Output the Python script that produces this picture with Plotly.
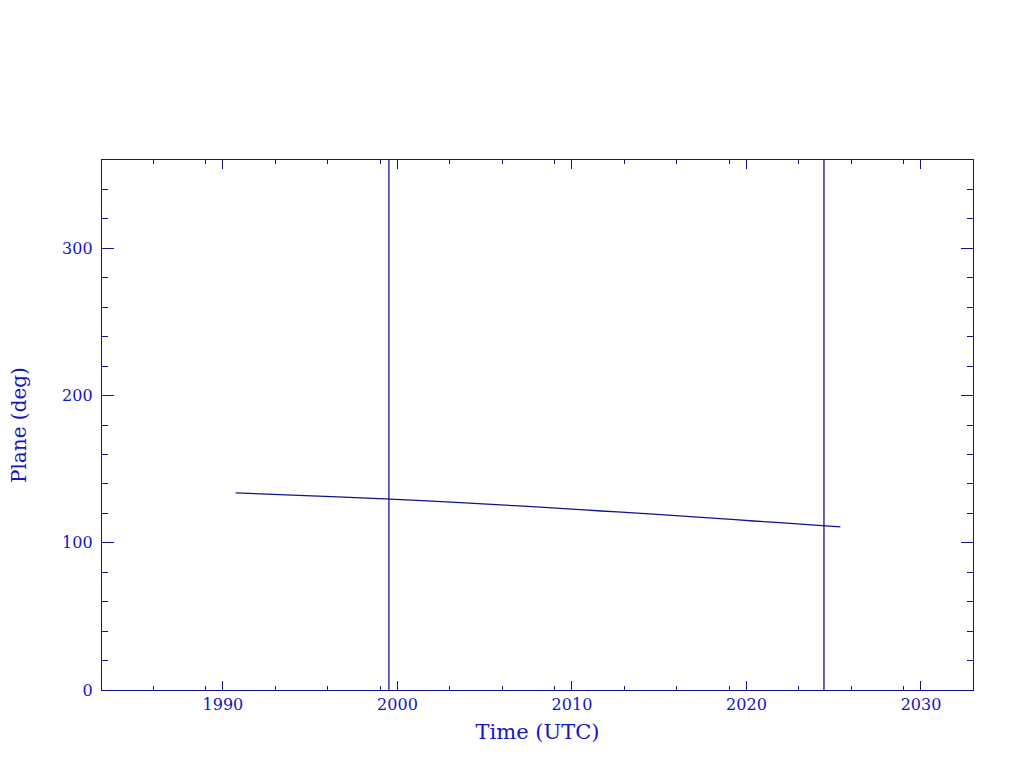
import plotly.graph_objects as go

# Data
years = [1990.73, 1993.61, 1996.57, 1999.28, 2001.71, 2003.87, 2005.90, 2007.96,
         2009.77, 2011.68, 2013.52, 2015.31, 2017.01, 2018.71, 2020.40, 2022.09,
         2023.72, 2025.38]
plane_deg = [133.9, 132.5, 131.2, 129.8, 128.5, 127.1, 125.7, 124.4,
             123.0, 121.6, 120.3, 118.9, 117.6, 116.2, 114.8, 113.5,
             112.1, 110.8]
vline_years = [1999.51, 2024.44]

x_major = [1990, 2000, 2010, 2020, 2030]
x_minor = [1986, 1989, 1993, 1996, 1999, 2003, 2006, 2009, 2013, 2016,
           2019, 2023, 2026, 2029]
y_major = [0, 100, 200, 300]

LINE = "#12128f"
TEXT = "#1515c0"
FONT = "DejaVu Serif"

fig = go.Figure()
fig.add_trace(go.Scatter(x=years, y=plane_deg, mode="lines",
                         line=dict(color=LINE, width=1.3, shape="spline", smoothing=0.4),
                         showlegend=False, hoverinfo="skip"))

for vx in vline_years:
    fig.add_shape(type="line", xref="x", yref="paper", x0=vx, x1=vx, y0=0, y1=1,
                  line=dict(color=LINE, width=1.3))

fig.add_annotation(text="Plane (deg)", xref="paper", yref="paper", x=0, y=0.5,
                   xanchor="center", yanchor="middle", xshift=-83, textangle=-90,
                   showarrow=False, font=dict(family=FONT, color=TEXT, size=20))

fig.update_layout(
    width=1024, height=768,
    margin=dict(l=94, r=59, t=152, b=86, autoexpand=False),
    paper_bgcolor="white", plot_bgcolor="white",
    font=dict(family=FONT, color=TEXT, size=16),
    xaxis=dict(range=[1983.07, 2032.98], showgrid=False, zeroline=False,
               showline=True, linecolor=LINE, linewidth=1.3, mirror="allticks",
               ticks="inside", ticklen=9, tickwidth=1.3, tickcolor=LINE,
               tickmode="array", tickvals=x_major, ticktext=[str(v) for v in x_major],
               tickfont=dict(family=FONT, color=TEXT, size=16),
               minor=dict(tickmode="array", tickvals=x_minor, ticks="inside",
                          ticklen=4, tickwidth=1.3, tickcolor=LINE, showgrid=False),
               title=dict(text="Time (UTC)", font=dict(family=FONT, color=TEXT, size=21),
                          standoff=10)),
    yaxis=dict(range=[0, 360], showgrid=False, zeroline=False,
               showline=True, linecolor=LINE, linewidth=1.3, mirror="allticks",
               ticks="inside", ticklen=12, tickwidth=1.3, tickcolor=LINE,
               tickmode="array", tickvals=y_major, ticktext=[str(v) for v in y_major],
               tickfont=dict(family=FONT, color=TEXT, size=16),
               ticklabelstandoff=5,
               minor=dict(tickmode="linear", tick0=0, dtick=20, ticks="inside",
                          ticklen=6, tickwidth=1.3, tickcolor=LINE, showgrid=False)),
)

fig.write_html("out.html")
